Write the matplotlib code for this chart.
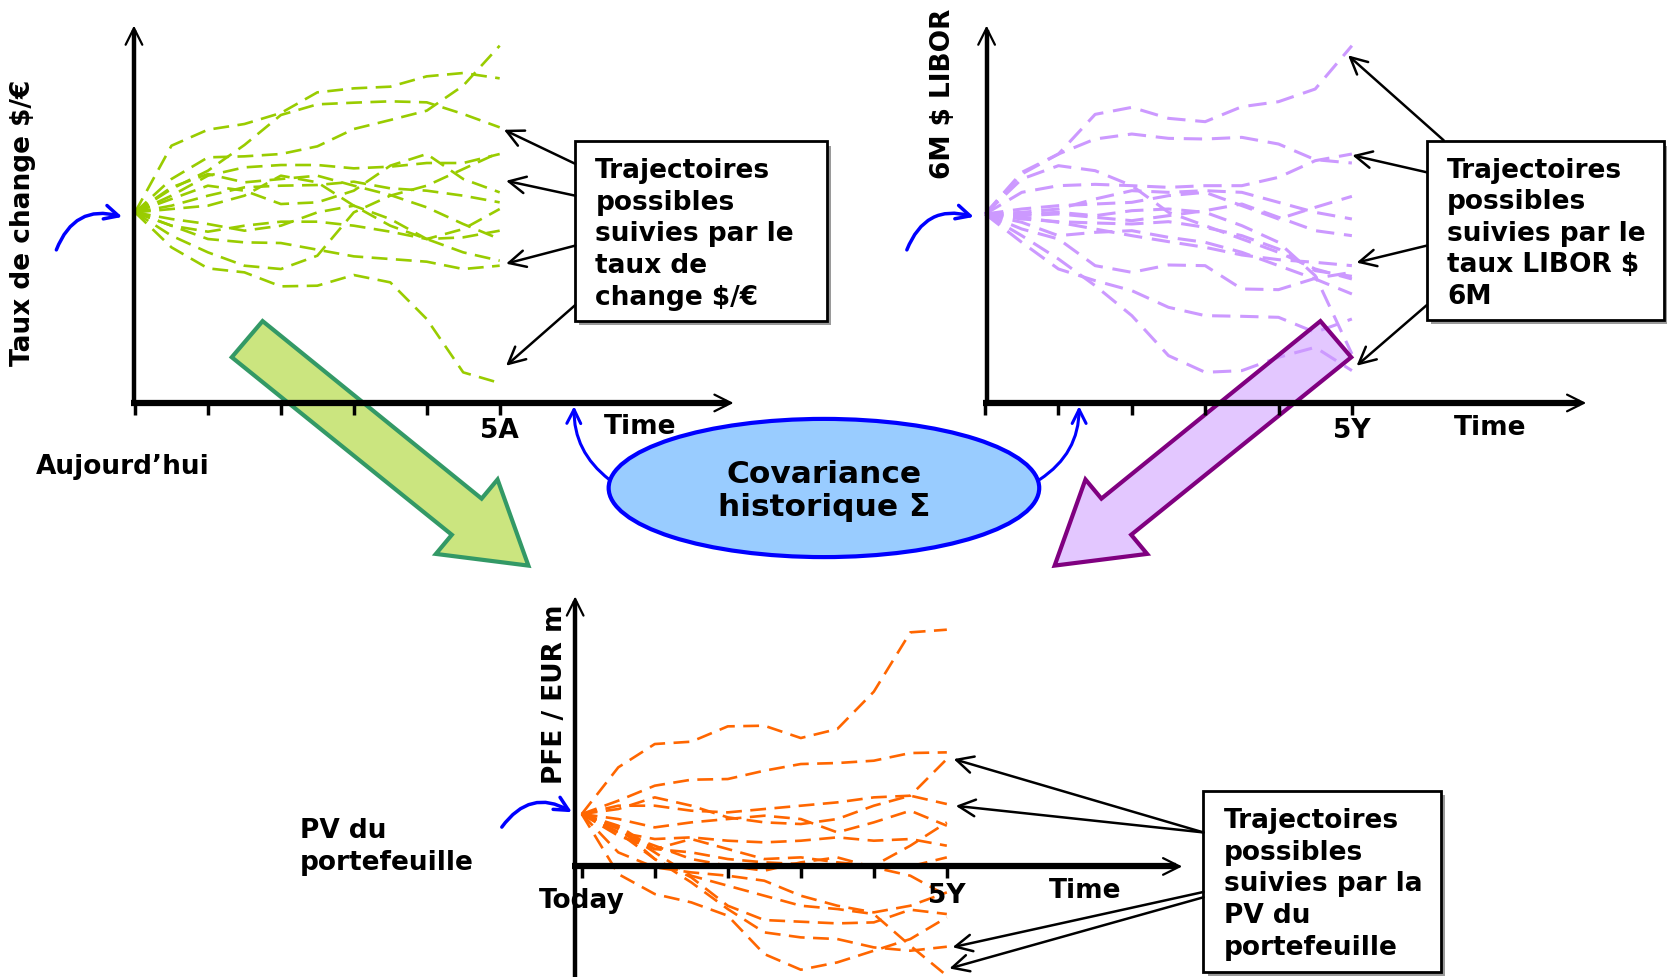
import matplotlib
matplotlib.use("Agg")
import matplotlib.pyplot as plt
import matplotlib.transforms as mtrans
from matplotlib.patches import Rectangle, Ellipse, Polygon

# canvas in reference pixel units
W, H = 1568, 920

years = [0, 0.5, 1, 1.5, 2, 2.5, 3, 3.5, 4, 4.5, 5]
tick_years = [0, 1, 2, 3, 4, 5]

# taux de change $/EUR, variation vs today
fx_paths = [
    [0, 20, 24.8, 26.5, 29.8, 36, 37.2, 37.7, 40.8, 41.8, 40.2],
    [0, 7, 12.5, 20.2, 29.2, 32.4, 32.9, 33.3, 33, 29.5, 25.5],
    [0, 10, 16.5, 16.8, 17.5, 19.8, 25, 27.7, 30.5, 38, 50],
    [0, -10.5, -16.8, -18, -22.2, -22, -18.8, -21, -32, -48, -51.2],
    [0, -4, -8, -9, -9.2, -11.2, -13.2, -14, -14.8, -17, -16],
    [0, -7, -12, -16, -17, -13, 0, 5, 8, 13, 18],
    [0, -4, -5.8, -4, -2.8, -2.8, -4, -5.8, -8, -5, 1],
    [0, 2, 5, 7.5, 8, 8.2, 9.2, 7.2, 6.5, 5, 3],
    [0, 5, 11, 13.5, 14.2, 14.2, 13.2, 13.7, 14.8, 14.8, 17.5],
    [0, 7.5, 11.5, 9, 10, 11, 8, 5.2, 1.5, -3.5, -8],
    [0, -2, -3.5, -5.5, -4, 0, 2, -2, -8, -7.5, -5.5],
    [0, 4, 8, 6.5, 2.5, 3, 6.5, 14, 17.5, 10, 6],
    [0, 1, 2, 5, 11, 9, 2, -4, -8, -12, -14.5],
]

# 6M $ LIBOR
libor_paths = [
    [0, 12.5, 18, 29.9, 32, 28.7, 27.7, 32.2, 33.7, 37.5, 50.5],
    [0, 12, 18, 22.5, 24, 22.7, 22.5, 23, 21, 16.3, 15.3],
    [0, 6.5, 8.5, 8.9, 8.5, 8, 8.5, 8.5, 11, 16, 18],
    [0, 1.5, 2.5, 3, 3.5, 5.5, 6.5, 2.5, -1.5, 2, 5.3],
    [0, 0.5, 1.5, 4.5, 7, 6.5, 7, 6.5, 3.5, 0.5, -1.5],
    [0, -0.5, 0, -1, -2, -0.5, 1, 3, -1, -5, -6.5],
    [0, -1, -2.5, -4.5, -6.5, -8.3, -10, -12.3, -13.7, -14.5, -15.5],
    [0, -1.5, -2.3, -2.7, -3, -2.3, -4, -6.5, -10.5, -17, -18.7],
    [0, -2.5, -6.5, -5.5, -5, -7, -8.5, -11.5, -15.5, -19.5, -24],
    [0, -4.5, -7.5, -15.5, -17.5, -15.3, -15.5, -22.5, -22.7, -19.3, -17.5],
    [0, -8.5, -16.5, -20, -23, -28, -30.5, -30.7, -31, -35.5, -31.5],
    [0, -6.5, -13.5, -21.5, -30.5, -42.5, -47.5, -47, -43, -40, -47],
    [0, 0, 0.5, -0.5, 1, 1.5, 0.5, -3.5, -8.5, -18.5, -42],
    [0, 10.5, 14.5, 13, 8.5, 0.5, -3.5, -7.5, -11.5, -16.5, -19.5],
]

# PV du portefeuille, EUR m
pv_paths = [
    [0, 14, 21, 21.7, 26.3, 26.5, 22.8, 25.5, 36.7, 54.5, 55.3],
    [0, 4, 8.5, 10.3, 10.5, 13, 15, 15.3, 16, 18.3, 18.5],
    [0, 2.5, 2.5, 1, 0.5, 1.5, 2.5, 3.5, 5, 5.5, 16.5],
    [0, 1.5, 5, 2.5, -1, -2.5, -3, -1.5, 2.5, 5.5, 3],
    [0, -1.5, -4, -2.5, -1.5, -0.5, -1.5, -5.5, -2.5, 1, -3.5],
    [0, -5.5, -7.5, -7, -8, -8.5, -8, -7, -8, -7.5, -9.5],
    [0, -3.5, -10.5, -11.5, -13.5, -14.5, -15, -15.5, -15.5, -15.7, -13],
    [0, -6.5, -10.5, -7.5, -10.5, -13.5, -13, -14.5, -15.5, -9.5, -2.5],
    [0, -5.5, -9.5, -13.5, -15.5, -17, -14.5, -13, -16, -18.5, -24.5],
    [0, -4, -13.5, -19, -27.5, -31.8, -32.3, -32.8, -32.5, -28.7, -30],
    [0, -5.5, -13.5, -20.5, -28.5, -35.5, -37, -37.5, -40, -41, -39.8],
    [0, -18, -24, -26.5, -30.5, -42, -46.7, -44.5, -41, -37.5, -31],
    [0, -11.5, -16, -17.5, -18.5, -20, -24.5, -27.5, -29.5, -27.5, -23.5],
    [0, -4.5, -11.5, -18.5, -21.5, -24.5, -27.5, -28.5, -30, -39.5, -48.5],
]

FS = 19
BOLD = dict(fontsize=FS, fontweight="bold", family="DejaVu Sans")

fig = plt.figure(figsize=(16.67, 9.78), dpi=100)
ax = fig.add_axes([0, 0, 1, 1])
ax.set_xlim(0, W)
ax.set_ylim(H, 0)
ax.axis("off")
ax.set_zorder(2)
ax.patch.set_alpha(0)


def inset(x0, x1, ytop, ybot, paths, color, lw):
    a = fig.add_axes([x0 / W, 1 - ybot / H, (x1 - x0) / W, (ybot - ytop) / H])
    a.set_xlim(0, 5)
    a.set_ylim(-50, 50)
    a.axis("off")
    a.set_zorder(1)
    for p in paths:
        a.plot(years, p, color=color, lw=lw, ls=(0, (6, 3.2)),
               clip_on=False, dash_joinstyle="round")
    return a


def arrow(p0, p1, lw=1.8, color="k", rad=0.0, hl=0.6, hw=0.3, ms=20):
    ax.annotate("", xy=p1, xytext=p0,
                arrowprops=dict(arrowstyle="->,head_length=%g,head_width=%g" % (hl, hw),
                                lw=lw, color=color, mutation_scale=ms,
                                shrinkA=0, shrinkB=0,
                                connectionstyle="arc3,rad=%g" % rad))


def chart_frame(a, x0, y0, ytop, ybot, xend, lab5):
    # vertical axis
    ax.plot([x0, x0], [ybot, ytop + 4], color="k", lw=3.2, solid_capstyle="butt")
    arrow((x0, ytop + 25), (x0, ytop), lw=1.6)
    # horizontal axis
    ax.plot([x0 - 3, xend - 6], [y0, y0], color="k", lw=4.5, solid_capstyle="butt")
    arrow((xend - 25, y0), (xend, y0), lw=1.6)
    tr = mtrans.blended_transform_factory(a.transData, ax.transData)
    for ty in tick_years:
        ax.plot([ty, ty], [y0, y0 + 11], color="k", lw=2.5, transform=tr,
                solid_capstyle="butt")
    ax.text(5, y0 + 25, lab5, transform=tr, ha="center", va="center", **BOLD)


def box(x, y, w, h, text):
    ax.add_patch(Rectangle((x + 4, y + 4), w, h, facecolor="#9a9a9a", edgecolor="none"))
    ax.add_patch(Rectangle((x, y), w, h, facecolor="white", edgecolor="k", lw=2))
    ax.text(x + 19, y + h / 2 + 2, text, ha="left", va="center", linespacing=1.28, **BOLD)


# ---- top left: taux de change
a1 = inset(127, 470, 43.9, 357.5, fx_paths, "#99cc00", 1.9)
chart_frame(a1, 126, 380, 25, 382, 690, "5A")
ax.text(602, 402, "Time", ha="center", va="center", **BOLD)
ax.text(115, 439, "Aujourd\u2019hui", ha="center", va="center", **BOLD)
ax.text(22, 210, "Taux de change $/\u20ac", rotation=90, ha="center", va="center", **BOLD)
arrow((53, 236), (115, 205), lw=2.5, color="#0000ff", rad=-0.45, hl=0.5, hw=0.25)
box(541, 134, 237, 169, "Trajectoires\npossibles\nsuivies par le\ntaux de\nchange $/\u20ac")
for p0, p1 in [((541, 155), (474, 123)), ((541, 185), (476, 171)),
               ((541, 232), (476, 249)), ((541, 288), (476, 345))]:
    arrow(p0, p1)

# ---- top right: LIBOR
a2 = inset(926.6, 1271.6, 45.5, 359.0, libor_paths, "#cc99ff", 2.2)
chart_frame(a2, 928, 380, 25, 382, 1492, "5Y")
ax.text(1402, 403, "Time", ha="center", va="center", **BOLD)
ax.text(887, 88, "6M $ LIBOR", rotation=90, ha="center", va="center", **BOLD)
arrow((853, 236), (916, 205), lw=2.5, color="#0000ff", rad=-0.45, hl=0.5, hw=0.25)
box(1342, 134, 223, 168, "Trajectoires\npossibles\nsuivies par le\ntaux LIBOR $\n6M")
for p0, p1 in [((1358, 133), (1268, 53)), ((1342, 163), (1272, 147)),
               ((1342, 232), (1276, 248)), ((1342, 288), (1276, 345))]:
    arrow(p0, p1)

# ---- bottom: PV du portefeuille
a3 = inset(547.2, 890.6, 609.9, 923.5, pv_paths, "#ff6600", 1.9)
chart_frame(a3, 541, 816, 562, 925, 1112, "")
tr3 = mtrans.blended_transform_factory(a3.transData, ax.transData)
ax.text(5, 843, "5Y", transform=tr3, ha="center", va="center", **BOLD)
ax.text(547, 848, "Today", ha="center", va="center", **BOLD)
ax.text(1021, 838, "Time", ha="center", va="center", **BOLD)
ax.text(522, 653, "PFE / EUR m", rotation=90, ha="center", va="center", **BOLD)
ax.text(282, 797, "PV du\nportefeuille", ha="left", va="center", linespacing=1.28, **BOLD)
arrow((472, 779), (538, 765), lw=2.5, color="#0000ff", rad=-0.45, hl=0.5, hw=0.25)
box(1132, 745, 223, 170, "Trajectoires\npossibles\nsuivies par la\nPV du\nportefeuille")
for p0, p1 in [((1132, 784), (897, 715)), ((1132, 784), (899, 759)),
               ((1132, 840), (896, 892)), ((1132, 845), (893, 912))]:
    arrow(p0, p1)

# ---- covariance ellipse
ax.add_patch(Ellipse((775, 460), 405, 130, facecolor="#99ccff", edgecolor="#0000ff", lw=3))
ax.text(775, 462, "Covariance\nhistorique \u03a3", ha="center", va="center",
        fontsize=22.5, fontweight="bold", family="DejaVu Sans", linespacing=1.2)
arrow((573, 452), (540, 383), lw=2.2, color="#0000ff", rad=-0.25, hl=0.5, hw=0.25)
arrow((978, 452), (1015, 383), lw=2.2, color="#0000ff", rad=0.27, hl=0.5, hw=0.25)

# ---- block arrows
green_arrow = [(218, 337), (247, 303), (453, 470), (468, 452), (497, 533), (410, 522), (425, 504)]
ax.add_patch(Polygon(green_arrow, closed=True, facecolor="#99cc00", alpha=0.5, edgecolor="none"))
ax.add_patch(Polygon(green_arrow, closed=True, facecolor="none", edgecolor="#339966", lw=3))
purple_arrow = [(1489 - x, y) for x, y in green_arrow]
ax.add_patch(Polygon(purple_arrow, closed=True, facecolor="#cc99ff", alpha=0.55, edgecolor="none"))
ax.add_patch(Polygon(purple_arrow, closed=True, facecolor="none", edgecolor="#800080", lw=3))

fig.savefig("out.png", dpi=100)
